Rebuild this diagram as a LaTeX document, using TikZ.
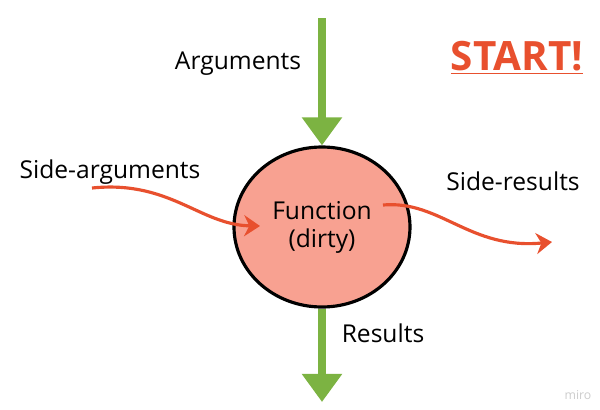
\documentclass[tikz,border=0pt]{standalone}
\usepackage{fontspec}
\setmainfont{Open Sans}
\usetikzlibrary{arrows.meta,shapes.geometric}
\definecolor{fnfill}{HTML}{F8A191}
\definecolor{argreen}{HTML}{7CB342}
\definecolor{sidered}{HTML}{E8502E}
\tikzset{
  lbl/.style={font=\fontsize{14}{16}\selectfont},
  mainarrow/.style={-{Triangle[width=22pt,length=16pt]},line width=4.5pt,argreen},
  sidearrow/.style={-{Stealth[width=12pt,length=9pt]},line width=1.8pt,sidered}
}
\begin{document}
\begin{tikzpicture}[x=0.02cm,y=-0.02cm]
  \useasboundingbox (0,0) rectangle (600,410);
  \node[ellipse,draw,line width=1.8pt,fill=fnfill,minimum width=176*0.02cm,
    minimum height=160*0.02cm,align=center,lbl] at (322,227) (Func) {Function\\(dirty)};
  \coordinate (ArgTop) at (322,18);
  \coordinate (ResBot) at (322,402);
  \coordinate (SideIn) at (92,188);
  \coordinate (SideOut) at (552,242);
  \draw[mainarrow] (ArgTop) -- (Func.north);
  \draw[mainarrow] (Func.south) -- (ResBot);
  \draw[sidearrow] (SideIn) .. controls (170,180) and (200,225) .. (260,226);
  \draw[sidearrow] (383,205) .. controls (440,200) and (470,250) .. (SideOut);
  \node[lbl] at (238,64) (Args) {Arguments};
  \node[lbl] at (110,172) (SideArgs) {Side-arguments};
  \node[lbl] at (513,181) (SideRes) {Side-results};
  \node[lbl] at (383,333) (Res) {Results};
  \node[font=\fontsize{23}{26}\selectfont\bfseries,sidered] at (517,58) (Start) {\underline{START!}};
  \node[font=\scriptsize,gray!40] at (578,395) (Miro) {miro};
\end{tikzpicture}
\end{document}
